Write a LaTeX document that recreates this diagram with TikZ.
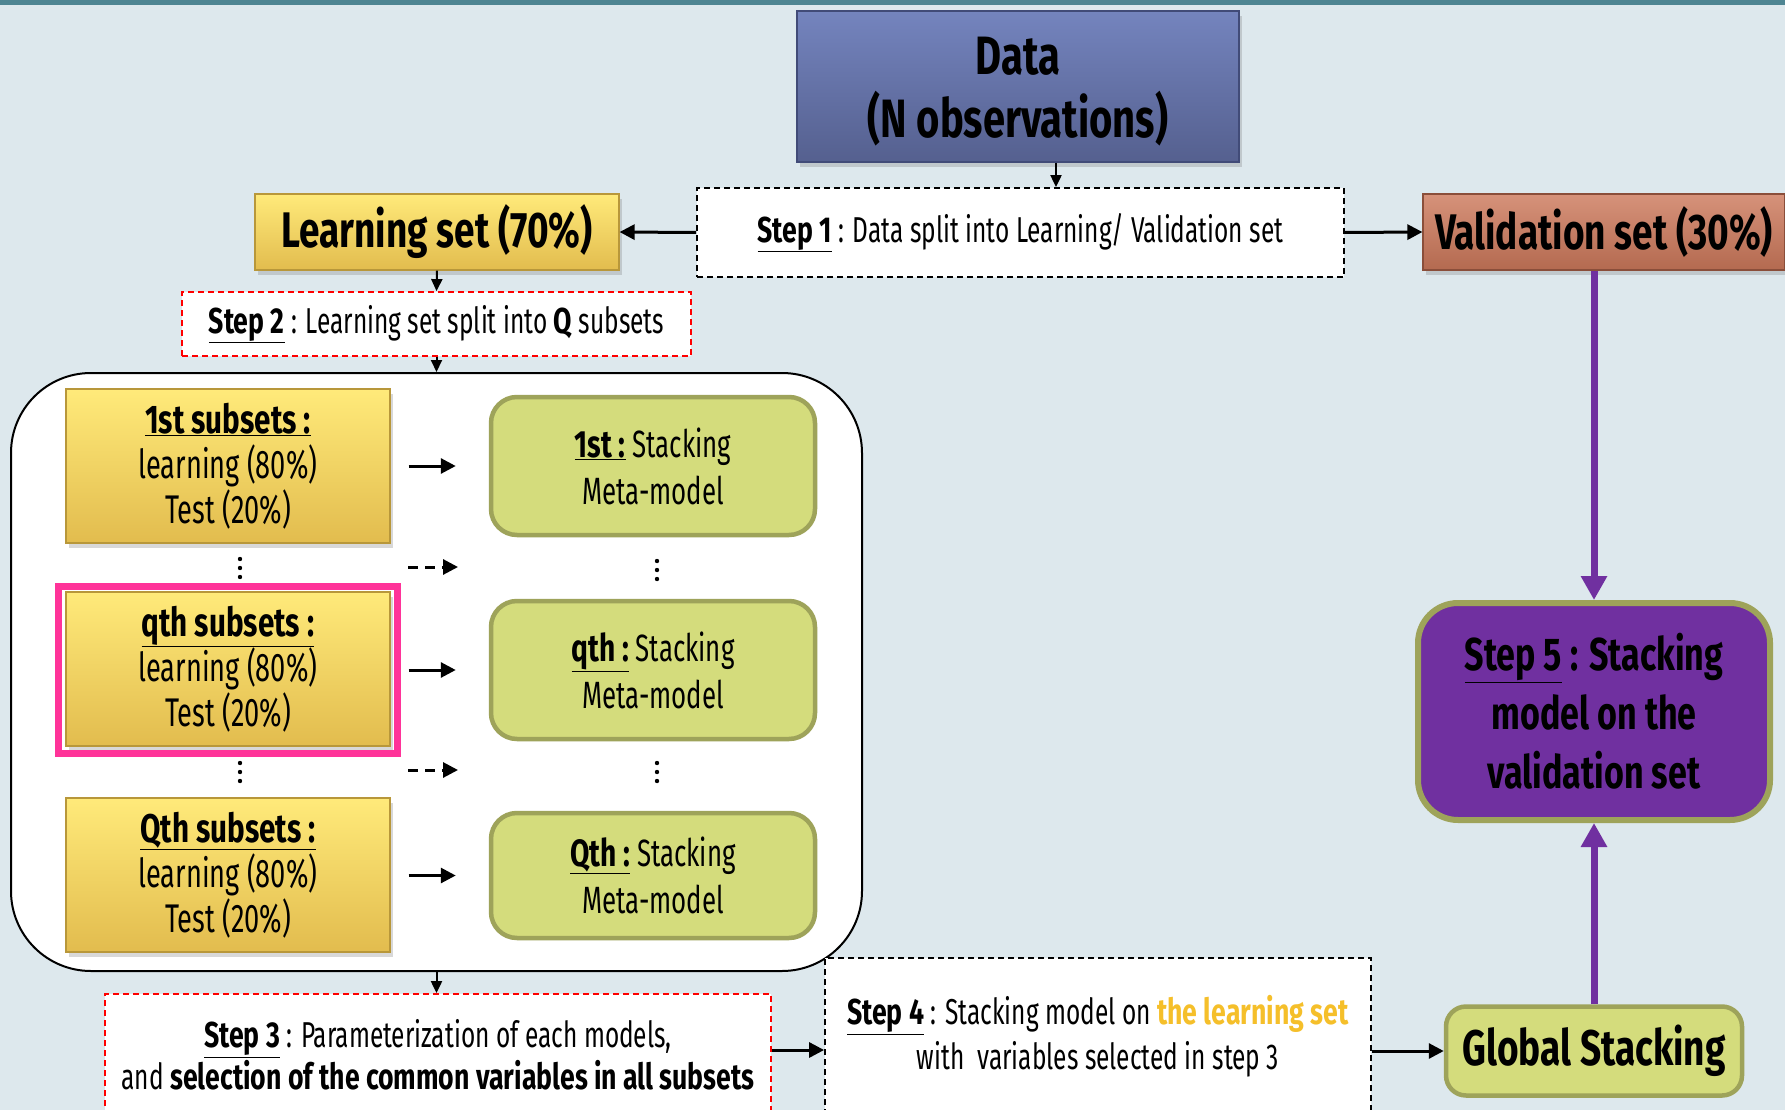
\documentclass[tikz,border=0pt]{standalone}
\usepackage{fontspec}
\setmainfont{Fira Sans}[UprightFeatures={FakeStretch=0.68},BoldFeatures={FakeStretch=0.74}]
\usetikzlibrary{arrows.meta,calc,shadows}
\definecolor{bg}{HTML}{DDE8ED}
\definecolor{topbar}{HTML}{4E8592}
\definecolor{dataT}{HTML}{7484BE}
\definecolor{dataB}{HTML}{55608F}
\definecolor{dataD}{HTML}{414B78}
\definecolor{yelT}{HTML}{FFEA7A}
\definecolor{yelB}{HTML}{E2BC4E}
\definecolor{yelD}{HTML}{B8973A}
\definecolor{valT}{HTML}{D6927A}
\definecolor{valB}{HTML}{B46A50}
\definecolor{valD}{HTML}{8A4E3A}
\definecolor{grn}{HTML}{D4DC7C}
\definecolor{olive}{HTML}{9EA35A}
\definecolor{purp}{HTML}{7030A0}
\definecolor{hot}{HTML}{FF3399}
\definecolor{gold}{HTML}{F5BF2A}
\newcommand\fsz[2]{\fontsize{#1}{#2}\selectfont}
\begin{document}
\begin{tikzpicture}[x=1pt,y=-1pt,
  shd/.style={drop shadow={shadow xshift=3pt,shadow yshift=-5pt,opacity=.3}},
  databox/.style={shd,draw=dataD,line width=1.5pt,top color=dataT,bottom color=dataB,inner sep=0pt},
  yelbox/.style={shd,draw=yelD,line width=1.2pt,top color=yelT,bottom color=yelB,align=center,inner sep=0pt,minimum width=324pt,minimum height=154pt,font=\fsz{40}{45}},
  valbox/.style={shd,draw=valD,line width=1.2pt,top color=valT,bottom color=valB,align=center,inner sep=0pt,font=\bfseries\fsz{50}{56}},
  grnbox/.style={draw=olive,line width=4.5pt,fill=grn,rounded corners=26pt,align=center,inner sep=0pt,minimum width=324pt,font=\fsz{38}{47}},
  dbox/.style={draw=black,fill=white,line width=1.8pt,dash pattern=on 6pt off 4pt,align=center,inner sep=0pt},
  rbox/.style={dbox,draw=red},
  arr/.style={-{Triangle[length=15pt,width=15pt]},line width=3pt},
  sarr/.style={-{Triangle[length=12pt,width=11pt]},line width=2pt},
  parr/.style={-{Triangle[length=24pt,width=25pt]},line width=7pt,draw=purp,fill=purp},
  dotc/.style={coordinate}
]
\useasboundingbox (0,0) rectangle (1785,1110);
\clip (0,0) rectangle (1785,1110);
\fill[bg] (0,0) rectangle (1785,1110);
\fill[topbar] (0,0) rectangle (1785,5);

% top row
\node[databox,minimum width=442pt,minimum height=151pt] (data) at (1018,86.5) {};
\node[align=center,inner sep=0pt,font=\bfseries\fsz{54}{63}] (datatxt) at (1018,92) {Data\\(N observations)};
\node[dbox,minimum width=647pt,minimum height=89pt,font=\fsz{36}{40}] (s1) at (1020.5,232.5)
  {\underline{\textbf{Step 1}} : Data split into Learning/ Validation set};
\node[yelbox,minimum width=364pt,minimum height=76pt,font=\bfseries\fsz{50}{56}] (ls) at (437,232) {Learning set (70\%)};
\node[valbox,minimum width=362pt,minimum height=76pt] (vs) at (1604,232) {Validation set (30\%)};
\node[rbox,minimum width=509pt,minimum height=64pt,font=\fsz{36}{40}] (s2) at (436.5,324)
  {\underline{\textbf{Step 2}} : Learning set split into \textbf{Q} subsets};

\draw[sarr] ([xshift=38pt]data.south) -- ([xshift=38pt]data.south |- s1.north);
\draw[arr] (s1.west) -- (ls.east);
\draw[arr] (s1.east) -- (vs.west);
\draw[sarr] (ls.south) -- (s2.north);

% big rounded container
\node[draw=black,line width=2pt,fill=white,rounded corners=80pt,minimum width=851pt,minimum height=598pt,inner sep=0pt] (big) at (436.5,672) {};
\draw[sarr] (s2.south) -- (big.north);

% subsets
\node[yelbox] (y1) at (228,466) {\underline{\textbf{1st subsets :}}\\learning (80\%)\\Test (20\%)};
\node[yelbox] (y2) at (228,669) {\underline{\textbf{qth subsets :}}\\learning (80\%)\\Test (20\%)};
\node[yelbox] (y3) at (228,875) {\underline{\textbf{Qth subsets :}}\\learning (80\%)\\Test (20\%)};
\node[draw=hot,line width=7pt,minimum width=339pt,minimum height=167pt,inner sep=0pt] (hl) at (228,670) {};

\node[grnbox,minimum height=138pt] (g1) at (653,466) {\underline{\textbf{1st :}} Stacking\\Meta-model};
\node[grnbox,minimum height=138pt] (g2) at (653,670) {\underline{\textbf{qth :}} Stacking\\Meta-model};
\node[grnbox,minimum height=125pt] (g3) at (653,875.5) {\underline{\textbf{Qth :}} Stacking\\Meta-model};

\draw[arr,shorten <=18pt,shorten >=33pt] (y1.east) -- (g1.west);
\draw[arr,shorten <=18pt,shorten >=33pt] (y2.east |- g2.west) -- (g2.west);
\draw[arr,shorten <=18pt,shorten >=33pt] (y3.east |- g3.west) -- (g3.west);

% vertical ellipses
\node[dotc] (dl1) at (240,568) {};
\node[dotc] (dl2) at (240,772) {};
\node[dotc] (dr1) at (657,570) {};
\node[dotc] (dr2) at (657,772) {};
\foreach \n in {dl1,dl2,dr1,dr2}
  \foreach \d in {-9,0,9}
    \fill ($(\n)+(0,\d)$) circle (2.2pt);

\coordinate (c1a) at (408,567);
\coordinate (c1b) at (458,567);
\coordinate (c2a) at (408,770);
\coordinate (c2b) at (458,770);
\draw[arr,dash pattern=on 10pt off 7pt] (c1a) -- (c1b);
\draw[arr,dash pattern=on 10pt off 7pt] (c2a) -- (c2b);

% bottom row
\node[rbox,minimum width=666pt,minimum height=122pt,font=\fsz{36}{42}] (s3) at (438,1055)
  {\underline{\textbf{Step 3}} : Parameterization of each models,\\
   and \textbf{selection of the common variables in all subsets}};
\draw[sarr] (big.south) -- (big.south |- s3.north);

\node[dbox,minimum width=546pt,minimum height=157pt,font=\fsz{36}{45}] (s4) at (1098,1036.5)
  {\underline{\textbf{Step 4}} : Stacking model on \textcolor{gold}{\textbf{the learning set}}\\
   with \ variables selected in step 3};

\node[grnbox,minimum width=296pt,minimum height=89pt,rounded corners=20pt,font=\bfseries\fsz{50}{56}] (gs) at (1594,1051) {Global Stacking};

\draw[arr] (s3.east |- 0,1050) -- (s4.west |- 0,1050);
\draw[arr] (s4.east |- gs.west) -- (gs.west);

% step 5
\node[draw=olive,line width=6pt,fill=purp,rounded corners=40pt,minimum width=352pt,minimum height=217pt,align=center,inner sep=0pt,font=\bfseries\fsz{46}{59}] (s5) at (1594,711.5)
  {\underline{Step 5} : Stacking\\model on the\\validation set};

\draw[parr] (s5.north |- vs.south) -- (s5.north);
\draw[parr] (gs.north) -- (s5.south);
\end{tikzpicture}
\end{document}
